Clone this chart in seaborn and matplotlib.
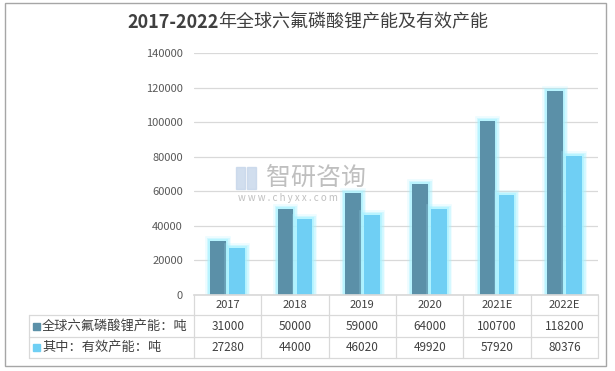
import pandas as pd
import matplotlib
matplotlib.use("Agg")
import matplotlib.pyplot as plt
import matplotlib.patheffects as pe
from matplotlib.lines import Line2D
from matplotlib.patches import Rectangle
import seaborn as sns

years = ["2017", "2018", "2019", "2020", "2021E", "2022E"]
series_names = ["全球六氟磷酸锂产能：吨", "其中：有效产能：吨"]
capacity = [31000, 50000, 59000, 64000, 100700, 118200]
effective = [27280, 44000, 46020, 49920, 57920, 80376]
yticks = [0, 20000, 40000, 60000, 80000, 100000, 120000, 140000]

colors = ["#5B90A8", "#6FCFF4"]
glow = "#A8F2FF"

sns.set_theme(style="white")
plt.rcParams["font.family"] = ["Noto Sans CJK SC", "DejaVu Sans"]

df = pd.DataFrame({
    "year": years * 2,
    "value": capacity + effective,
    "series": [series_names[0]] * 6 + [series_names[1]] * 6,
})

W, H = 615, 371
fig = plt.figure(figsize=(W / 100, H / 100), dpi=100)

def fx(x):
    return x / W

def fy(y):
    return 1 - y / H

x0, x1 = 194, 598
y_top, y_bot = 53, 295
ax = fig.add_axes([fx(x0), fy(y_bot), fx(x1) - fx(x0), fy(y_top) - fy(y_bot)])

sns.barplot(data=df, x="year", y="value", hue="series", palette=colors,
            width=0.56, gap=0.16, ax=ax, legend=False, saturation=1)

# soft glow round the bars
for p in ax.patches:
    p.set_linewidth(0)
    p.set_path_effects([
        pe.Stroke(linewidth=7, foreground=glow, alpha=0.2),
        pe.Stroke(linewidth=5, foreground=glow, alpha=0.35),
        pe.Stroke(linewidth=3, foreground=glow, alpha=0.6),
        pe.Normal(),
    ])

ax.set_ylim(0, 140000)
ax.set_yticks(yticks)
ax.set_yticklabels([str(v) for v in yticks], color="#595959", fontsize=8)
ax.tick_params(axis="y", length=0, pad=8)
ax.set_xticks([])
ax.set_xlabel("")
ax.set_ylabel("")
ax.grid(axis="y", color="#D9D9D9", linewidth=0.9)
ax.set_axisbelow(True)
for s in ["left", "right", "top"]:
    ax.spines[s].set_visible(False)
ax.spines["bottom"].set_color("#D9D9D9")
ax.set_xlim(-0.5, 5.5)

# data table below the plot
line_c = "#D9D9D9"
rows_y = [295, 315, 337, 358]
col_w = (x1 - x0) / len(years)
lab_x0 = 29

def hline(y, xa, xb):
    fig.add_artist(Line2D([fx(xa), fx(xb)], [fy(y), fy(y)], color=line_c, lw=0.9))

def vline(x, ya, yb):
    fig.add_artist(Line2D([fx(x), fx(x)], [fy(ya), fy(yb)], color=line_c, lw=0.9))

hline(rows_y[1], lab_x0, x1)
hline(rows_y[2], lab_x0, x1)
hline(rows_y[3], lab_x0, x1)
vline(lab_x0, rows_y[1], rows_y[3])
for i in range(len(years) + 1):
    vline(x0 + i * col_w, rows_y[0], rows_y[3])

for i, yr in enumerate(years):
    cx = x0 + (i + 0.5) * col_w
    fig.text(fx(cx), fy((rows_y[0] + rows_y[1]) / 2), yr, ha="center", va="center",
             fontsize=8, color="#404040")
    fig.text(fx(cx), fy((rows_y[1] + rows_y[2]) / 2), str(capacity[i]), ha="center",
             va="center", fontsize=8.5, color="#404040")
    fig.text(fx(cx), fy((rows_y[2] + rows_y[3]) / 2), str(effective[i]), ha="center",
             va="center", fontsize=8.5, color="#404040")

for j, name in enumerate(series_names):
    cy = (rows_y[j + 1] + rows_y[j + 2]) / 2
    fig.add_artist(Rectangle((fx(33), fy(cy + 3.5)), fx(7), fy(0) - fy(7),
                             color=colors[j], transform=fig.transFigure))
    fig.text(fx(42), fy(cy), name, ha="left", va="center", fontsize=9.5, color="#404040")

# title: bold digits, regular Chinese
t1 = fig.text(fx(127), fy(22), "2017-2022", ha="left", va="center", fontsize=13,
              fontweight="bold", color="#404040")
fig.canvas.draw()
bb = t1.get_window_extent()
fig.text(bb.x1 / W, fy(22), "年全球六氟磷酸锂产能及有效产能", ha="left", va="center",
         fontsize=13, color="#404040")

# watermark
fig.add_artist(Rectangle((fx(236), fy(189)), fx(9), fy(0) - fy(22),
                         color="#C6D6EA", alpha=0.8, transform=fig.transFigure))
fig.add_artist(Rectangle((fx(247), fy(189)), fx(9), fy(0) - fy(22),
                         color="#C6D6EA", alpha=0.8, transform=fig.transFigure))
fig.text(fx(266), fy(178), "智研咨询", ha="left", va="center", fontsize=18,
         color="#B0B0B0", alpha=0.8)
fig.text(fx(238), fy(198), "w w w . c h y x x . c o m", ha="left", va="center",
         fontsize=7, color="#B0B0B0", alpha=0.8)

# outer border
fig.add_artist(Rectangle((fx(5), fy(366)), fx(601), fy(0) - fy(363), fill=False,
                         edgecolor="#A6A6A6", lw=1, transform=fig.transFigure))

fig.savefig("out.png", dpi=100)
plt.close(fig)
